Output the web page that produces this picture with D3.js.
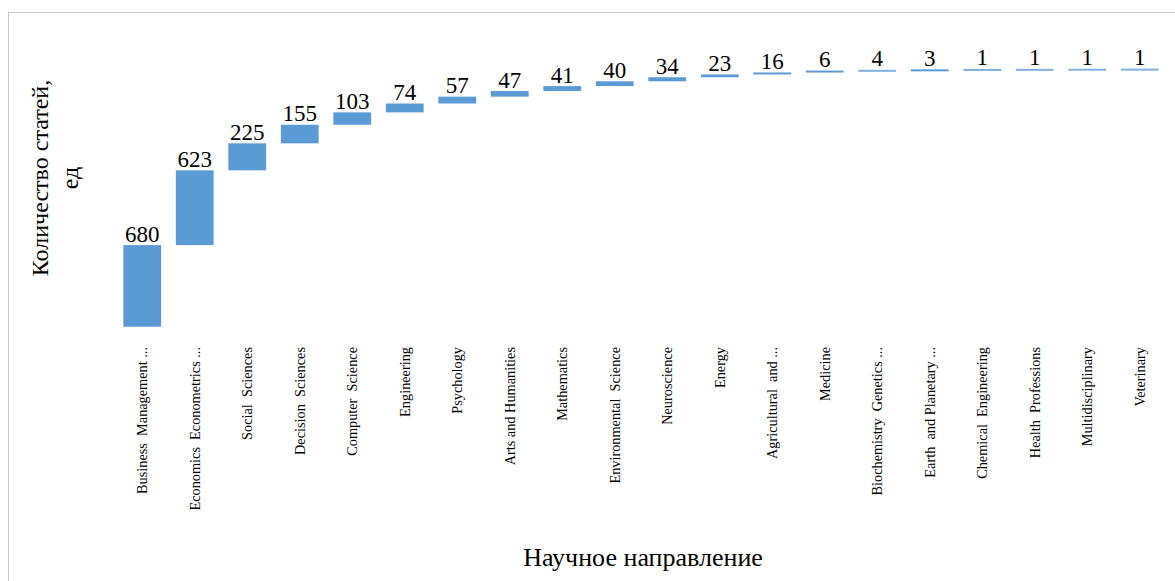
<!DOCTYPE html>
<html>
<head>
<meta charset="utf-8">
<script src="https://cdn.jsdelivr.net/npm/d3@7"></script>
<style>
html,body{margin:0;padding:0;background:#fff;}
svg{display:block;}
</style>
</head>
<body>
<svg id="chart" width="1175" height="581"></svg>
<script>
const categories = [
  "Business  Management ...", "Economics  Econometrics ...", "Social  Sciences",
  "Decision  Sciences", "Computer  Science", "Engineering", "Psychology",
  "Arts and Humanities", "Mathematics", "Environmental  Science", "Neuroscience",
  "Energy", "Agricultural  and ...", "Medicine", "Biochemistry  Genetics ...",
  "Earth  and Planetary ...", "Chemical  Engineering", "Health  Professions",
  "Multidisciplinary", "Veterinary"
];
const values = [680, 623, 225, 155, 103, 74, 57, 47, 41, 40, 34, 23, 16, 6, 4, 3, 1, 1, 1, 1];
const yAxisTitle = ["Количество статей,", "ед"];
const xAxisTitle = "Научное направление";

const FONT = "'Liberation Serif', 'Times New Roman', serif";
const svg = d3.select("#chart");

// outer frame
svg.append("rect").attr("x", 8.5).attr("y", 12.5).attr("width", 1300).attr("height", 700)
  .attr("fill", "none").attr("stroke", "#c8c8c8").attr("stroke-width", 1);

// waterfall data
let cum = 0;
const data = categories.map((c, i) => {
  const start = cum;
  cum += values[i];
  return { cat: c, value: values[i], start: start, end: cum };
});

const x = d3.scaleBand().domain(categories).range([116, 1166]).paddingInner(0.28).paddingOuter(0.14);
const y = d3.scaleLinear().domain([0, 2500]).range([326.7, 26.7]);

const g = svg.append("g");
g.selectAll("rect.bar").data(data).enter().append("rect")
  .attr("class", "bar")
  .attr("x", d => x(d.cat))
  .attr("width", x.bandwidth())
  .attr("y", d => Math.min(y(d.end), y(d.start) - 2))
  .attr("height", d => Math.max(y(d.start) - y(d.end), 2))
  .attr("fill", d => d.value < 5 && d.value !== 3 ? "#7fb1e0" : "#5b9bd5");

g.selectAll("text.val").data(data).enter().append("text")
  .attr("class", "val")
  .attr("x", d => x(d.cat) + x.bandwidth() / 2)
  .attr("y", d => Math.min(y(d.end), y(d.start) - 2) - 3.5)
  .attr("text-anchor", "middle")
  .style("font-family", FONT)
  .style("font-size", "23px")
  .attr("fill", "#000")
  .text(d => d.value);

// category labels (x axis without line/ticks)
const xAxis = d3.axisBottom(x).tickSize(0).tickPadding(0);
const ax = svg.append("g").attr("transform", "translate(0,347)").call(xAxis);
ax.select(".domain").remove();
ax.selectAll(".tick text")
  .attr("transform", "rotate(-90)")
  .attr("x", 0).attr("y", 0).attr("dy", "0.35em")
  .attr("text-anchor", "end")
  .attr("xml:space", "preserve")
  .style("white-space", "pre")
  .style("font-family", FONT)
  .style("font-size", "14.3px")
  .attr("fill", "#000");

// y axis title
const yt = svg.append("text")
  .attr("transform", "translate(40,178) rotate(-90)")
  .attr("text-anchor", "middle")
  .style("font-family", FONT)
  .style("font-size", "24px")
  .attr("fill", "#000");
yt.append("tspan").attr("x", 0).attr("dy", "0.35em").text(yAxisTitle[0]);
yt.append("tspan").attr("x", 0).attr("dy", "1.25em").text(yAxisTitle[1]);

// x axis title
svg.append("text").attr("x", 643).attr("y", 566)
  .attr("text-anchor", "middle")
  .style("font-family", FONT)
  .style("font-size", "26px")
  .attr("fill", "#000")
  .text(xAxisTitle);
</script>
</body>
</html>
